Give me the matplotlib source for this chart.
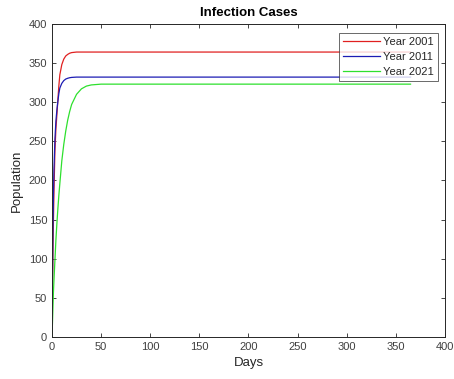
import numpy as np
import matplotlib.pyplot as plt

plt.rcParams['font.family'] = ['Liberation Sans', 'DejaVu Sans']

# sampled infection curves (days, population)
days = [0, 0.5, 1, 1.5, 2, 3, 4, 5, 6, 7, 8, 10, 12, 14, 16, 18, 20, 25, 30, 35, 40, 50, 100, 200, 365]
year_2001 = [0, 55, 110, 150, 185, 238, 266, 284, 303, 321, 335, 348, 355, 359, 361, 362.5, 363.3, 364, 364, 364, 364, 364, 364, 364, 364]
year_2011 = [0, 70, 135, 180, 213, 253, 276, 290, 301, 311, 318, 324, 327.5, 329.5, 330.5, 331.2, 331.6, 332, 332, 332, 332, 332, 332, 332, 332]
year_2021 = [0, 18, 38, 58, 72, 98, 124, 145, 164, 181, 196, 225, 246, 263, 277, 288, 297, 310, 317, 320.5, 322, 323, 323, 323, 323]

labels = ['Year 2001', 'Year 2011', 'Year 2021']
colors = ['#e02020', '#1c1cb4', '#2ee02e']

fig = plt.figure(figsize=(4.54, 3.79), dpi=100)
ax = fig.add_axes([0.1145, 0.111, 0.8655, 0.826])

for vals, lab, c in zip([year_2001, year_2011, year_2021], labels, colors):
    ax.plot(days, vals, color=c, lw=0.9, label=lab)

ax.set_xlim(0, 400)
ax.set_ylim(0, 400)
ax.set_xticks(np.arange(0, 401, 50))
ax.set_yticks(np.arange(0, 401, 50))
ax.tick_params(direction='in', top=True, right=True, length=3, width=0.6,
               labelsize=8, colors='#262626', labelcolor='#404040')
ax.tick_params(axis='x', pad=4)
for s in ax.spines.values():
    s.set_linewidth(0.7)
    s.set_color('#262626')

ax.set_title('Infection Cases', fontsize=9.5, fontweight='bold', pad=6)
ax.set_xlabel('Days', fontsize=9.5, color='#262626', labelpad=3)
ax.set_ylabel('Population', fontsize=9.5, color='#262626', labelpad=4)

leg = ax.legend(loc='upper right', fontsize=8, frameon=True, fancybox=False,
                borderpad=0.35, handlelength=3.3, handletextpad=0.3,
                labelspacing=0.45, borderaxespad=0.0, bbox_to_anchor=(0.982, 0.97))
leg.get_frame().set_edgecolor('#262626')
leg.get_frame().set_linewidth(0.6)
for t in leg.get_texts():
    t.set_color('#262626')

fig.savefig('out.png', dpi=100, facecolor='white')
